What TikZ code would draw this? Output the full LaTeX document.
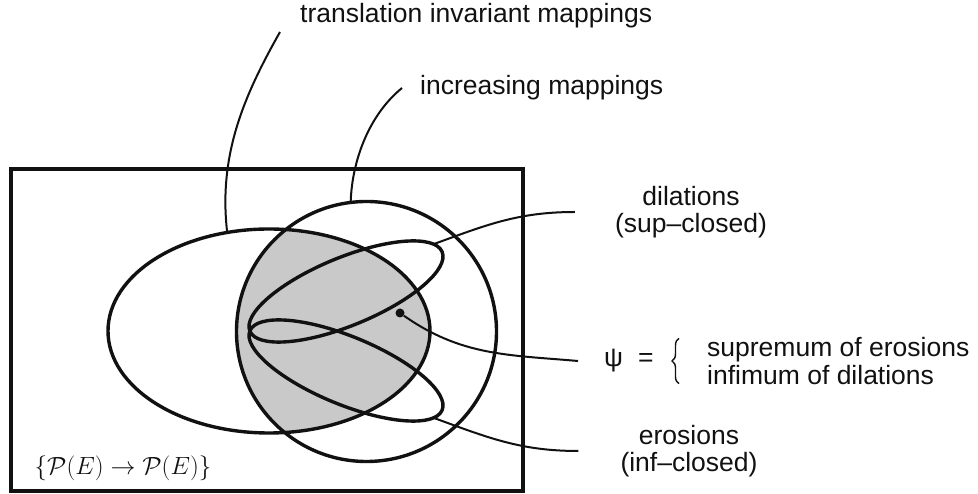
\documentclass[tikz,border=0pt]{standalone}
\usepackage{fontspec}
\setmainfont{Liberation Sans}
\usetikzlibrary{positioning,calc,shapes.geometric,decorations.pathreplacing}
\definecolor{Ink}{HTML}{111111}
\definecolor{Dots}{HTML}{C9C9C9}
\tikzset{
  setline/.style={draw=Ink,line width=3.4pt,inner sep=0pt,outer sep=0pt},
  link/.style={draw=Ink,line width=2pt},
  lab/.style={font=\fontsize{26.5}{27.5}\selectfont,text=Ink,inner sep=0pt},
}

\begin{document}
\begin{tikzpicture}[x=1pt,y=1pt]
  \useasboundingbox (0,0) rectangle (978,494);
  % all mappings P(E) -> P(E)
  \draw[Ink,line width=3.2pt] (11,3) rectangle (523,325);
  \begin{scope}
    \clip (269,163) ellipse [x radius=161pt, y radius=102pt];
    \fill[Dots] (366.5,162.5) circle [radius=130pt];
  \end{scope}
  \node[setline,ellipse,minimum width=322pt,minimum height=204pt] (tinv) at (269,163) {};
  \node[setline,circle,minimum size=260pt] (incr) at (366.5,162.5) {};
  \foreach \nm/\ang/\yc in {dila/22.4/202.5,eros/-22.4/123.5}{
    \node[setline,ellipse,minimum width=208pt,minimum height=68pt,rotate=\ang] (\nm) at (346,\yc) {};
  }
  \node[circle,fill=Ink,minimum size=9pt,inner sep=0pt] (psidot) at (400,181) {};

  % labels
  \node[lab,anchor=base west] (tlab) at (300,471) {translation invariant mappings};
  \node[lab,anchor=base west] (ilab) at (420,399) {increasing mappings};
  \node[lab,align=center] (dlab) at (691,282) {dilations\\(sup–closed)};
  \node[lab,align=center] (elab) at (689,43) {erosions\\(inf–closed)};
  \node[lab,anchor=west] (psilab) at (604,133) {ψ\hspace{15pt}=};
  \node[lab,anchor=west,align=left] (psitxt) at (707,133) {supremum of erosions\\infimum of dilations};
  \draw[Ink,line width=1.4pt,decorate,decoration={brace,amplitude=7pt}]
    ([xshift=-28pt,yshift=1pt]psitxt.south west) -- ([xshift=-28pt,yshift=-1pt]psitxt.north west);
  \node[font=\fontsize{24.88}{28}\selectfont,text=Ink,inner sep=0pt] (uset) at (123,26) {$\{\mathcal{P}(E)\rightarrow\mathcal{P}(E)\}$};

  \coordinate (tend) at (280,462);
  \coordinate (iend) at (402,406);
  \coordinate[left=40pt of dlab.west] (dend);
  \coordinate[left=42pt of elab.west] (eend);
  \coordinate[left=26pt of psilab.west] (pend);

  \draw[link] (tinv.113) .. controls (218,340) and (245,400) .. (tend);
  \draw[link] (incr.97) .. controls (352,335) and (370,380) .. (iend);
  \draw[link] (dila.6) to[out=20,in=180] (dend);
  \draw[link] (eros.-6) to[out=-20,in=180] (eend);
  \draw[link] (psidot) to[out=-35,in=175] (pend);
\end{tikzpicture}
\end{document}
